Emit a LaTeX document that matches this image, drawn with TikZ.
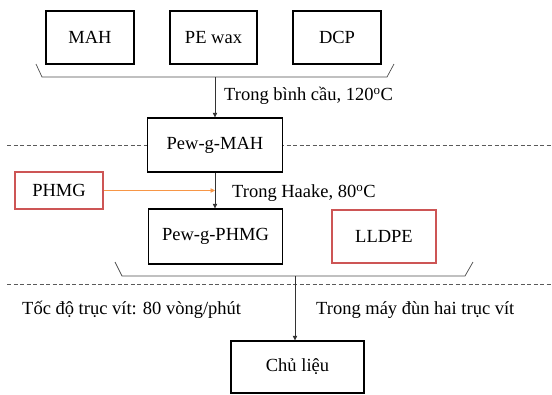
\documentclass[tikz,border=0pt]{standalone}
\usepackage{fontspec}
\setmainfont{Liberation Serif}
\usetikzlibrary{arrows.meta}
\definecolor{boxred}{RGB}{205,85,85}
\definecolor{arrorange}{RGB}{247,150,70}
\definecolor{dashgray}{RGB}{90,90,90}
\tikzset{
  x=1pt,y=1pt,
  blackbox/.style={draw=black,line width=1.4pt,fill=white,inner sep=0pt,font=\fontsize{18.5}{20}\selectfont},
  redbox/.style={draw=boxred,line width=1.4pt,fill=white,inner sep=0pt,font=\fontsize{18.5}{20}\selectfont},
  lbl/.style={anchor=west,inner sep=0pt,font=\fontsize{18.5}{20}\selectfont},
  flow/.style={draw=black!80,line width=0.7pt,-{Triangle[width=4.5pt,length=4.5pt]}},
  bracketline/.style={draw=black!70,line width=0.7pt},
  sepline/.style={draw=dashgray,line width=0.9pt,dash pattern=on 4pt off 2.5pt}
}
\begin{document}
\begin{tikzpicture}
\useasboundingbox (0,0) rectangle (552,-394);
% separators
\draw[sepline] (7,-145) -- (552,-145);
\draw[sepline] (7,-284) -- (552,-284);
% top row
\node[blackbox,minimum width=88,minimum height=53] (mah) at (90,-37.5) {MAH};
\node[blackbox,minimum width=87,minimum height=53] (pew) at (213.5,-37.5) {PE wax};
\node[blackbox,minimum width=88,minimum height=53] (dcp) at (337,-37.5) {DCP};
\draw[bracketline] (36,-64) -- (42,-77) -- (387,-77) -- (394,-64);
\coordinate (b1) at (215,-77);
\node[blackbox,minimum width=135,minimum height=54] (pm) at (215,-145) {Pew-g-MAH};
\draw[flow] (b1) -- (b1 |- pm.north);
\node[lbl] (t1) at (224,-96) {Trong bình cầu, 120\textsuperscript{o}C};
% second stage
\node[redbox,minimum width=88,minimum height=37] (phmg) at (59,-190.5) {PHMG};
\node[blackbox,minimum width=134,minimum height=55] (pp) at (215.5,-236.5) {Pew-g-PHMG};
\node[redbox,minimum width=104,minimum height=53] (ll) at (384,-236.5) {LLDPE};
\draw[flow] (pm.south) -- (pm.south |- pp.north);
\draw[draw=arrorange,line width=0.7pt,-{Triangle[width=4.5pt,length=4.5pt]}] (phmg.east) -- (phmg.east -| pm.south);
\node[lbl] (t2) at (232,-193) {Trong Haake, 80\textsuperscript{o}C};
\draw[bracketline] (115,-262) -- (122,-276) -- (465,-276) -- (473,-262);
% final stage
\coordinate (b2) at (295,-276);
\node[blackbox,minimum width=133,minimum height=52] (chu) at (297.5,-367) {Chủ liệu};
\draw[flow] (b2) -- (b2 |- chu.north);
\node[lbl] (t3) at (22,-310) {Tốc độ trục vít: 80 vòng/phút};
\node[lbl] (t4) at (316,-310) {Trong máy đùn hai trục vít};
\end{tikzpicture}
\end{document}
